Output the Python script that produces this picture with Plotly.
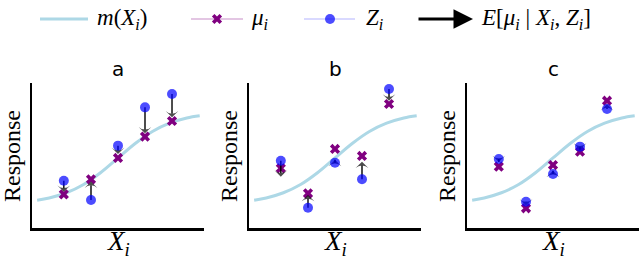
import plotly.graph_objects as go

# ---------------- data ----------------
panel_labels = ["a", "b", "c"]
X = [1.85, 3.43, 5.0, 6.57, 8.14]

curve_x = [0.3, 1.0, 2.0, 3.0, 4.0, 5.0, 6.0, 7.0, 8.0, 9.0, 9.75]
curve_y = [1.92, 2.07, 2.43, 3.00, 3.83, 4.83, 5.83, 6.66, 7.23, 7.59, 7.74]

mu_a = [2.32, 3.36, 4.83, 6.30, 7.38]
Z_a = [3.26, 1.93, 5.68, 8.32, 9.24]
E_a = [2.50, 3.20, 5.10, 6.53, 7.63]

mu_b = [4.12, 2.39, 5.45, 4.97, 8.55]
Z_b = [4.64, 1.40, 4.50, 3.36, 9.59]
E_b = [3.54, 2.28, 4.70, 4.57, 8.78]

mu_c = [4.23, 1.36, 4.34, 5.26, 8.78]
Z_c = [4.76, 1.81, 3.72, 5.61, 8.21]
E_c = [4.55, 1.55, 3.95, 5.40, 8.55]

mu_all = [mu_a, mu_b, mu_c]
Z_all = [Z_a, Z_b, Z_c]
E_all = [E_a, E_b, E_c]

legend_labels = [
    "<i>m</i>(<i>X<sub>i</sub></i>)",
    "<i>μ<sub>i</sub></i>",
    "<i>Z<sub>i</sub></i>",
    "<i>E</i>[<i>μ<sub>i</sub></i> | <i>X<sub>i</sub></i>, <i>Z<sub>i</sub></i>]",
]

# ---------------- styles / geometry ----------------
W, H = 640, 260
CURVE_COL = "rgb(173,216,230)"
MU_COL = "rgb(128,0,128)"
Z_COL = "rgba(0,0,255,0.7)"
SERIF = "Liberation Serif"
SANS = "DejaVu Sans"


def fx(px):
    return px / W


def fy(py):
    return 1 - py / H


panel_px = [(32, 204), (249, 421), (467, 639)]
y_top_px, y_bot_px = 83, 228
ydom = [fy(y_bot_px), fy(y_top_px)]

fig = go.Figure()
layout = dict(
    width=W, height=H, margin=dict(l=0, r=0, t=0, b=0),
    paper_bgcolor="white", plot_bgcolor="rgba(0,0,0,0)", showlegend=False,
)

annotations = []
for i in range(3):
    xa = "x" if i == 0 else f"x{i+1}"
    ya = "y" if i == 0 else f"y{i+1}"
    xkey = "xaxis" if i == 0 else f"xaxis{i+1}"
    ykey = "yaxis" if i == 0 else f"yaxis{i+1}"
    x0, x1 = panel_px[i]
    common = dict(showticklabels=False, ticks="", showgrid=False, zeroline=False,
                  showline=True, linecolor="black", linewidth=2.5, range=[0, 10],
                  fixedrange=True)
    layout[xkey] = dict(domain=[fx(x0), min(fx(x1), 1)], anchor=ya, **common)
    layout[ykey] = dict(domain=ydom, anchor=xa, **common)

    # curve
    fig.add_trace(go.Scatter(x=curve_x, y=curve_y, mode="lines", line_shape="spline",
                             line=dict(color=CURVE_COL, width=3),
                             xaxis=xa, yaxis=ya, hoverinfo="skip"))
    # mu markers
    fig.add_trace(go.Scatter(x=X, y=mu_all[i], mode="markers",
                             marker=dict(symbol="x", size=9, color=MU_COL,
                                         line=dict(width=0)),
                             xaxis=xa, yaxis=ya))
    # arrows Z -> E
    for xv, zv, ev in zip(X, Z_all[i], E_all[i]):
        fig.add_trace(go.Scatter(x=[xv, xv], y=[zv, ev], mode="lines+markers",
                                 line=dict(color="black", width=1.4),
                                 marker=dict(symbol=["circle", "arrow-wide"], size=[0, 9],
                                             angleref="previous", color="black",
                                             line=dict(width=0)),
                                 xaxis=xa, yaxis=ya, hoverinfo="skip"))
    # Z dots
    fig.add_trace(go.Scatter(x=X, y=Z_all[i], mode="markers",
                             marker=dict(symbol="circle", size=10, color=Z_COL,
                                         line=dict(width=0)),
                             xaxis=xa, yaxis=ya))

    cx = fx((x0 + x1) / 2)
    annotations.append(dict(text=panel_labels[i], x=cx, y=fy(69), xref="paper", yref="paper",
                            showarrow=False, xanchor="center", yanchor="middle",
                            font=dict(family=SANS, size=20, color="black")))
    annotations.append(dict(text="<i>X<sub>i</sub></i>", x=cx, y=fy(243), xref="paper", yref="paper",
                            showarrow=False, xanchor="center", yanchor="middle",
                            font=dict(family=SERIF, size=27, color="black")))
    annotations.append(dict(text="Response", x=fx(x0 - 20), y=fy(156), xref="paper", yref="paper",
                            showarrow=False, xanchor="center", yanchor="middle", textangle=-90,
                            font=dict(family=SERIF, size=24, color="black")))

# ---------------- legend (overlay axis in pixel units) ----------------
layout["xaxis4"] = dict(domain=[0, 1], range=[0, W], visible=False, fixedrange=True, anchor="y4")
layout["yaxis4"] = dict(domain=[0, 1], range=[H, 0], visible=False, fixedrange=True, anchor="x4")
LY = 19
fig.add_trace(go.Scatter(x=[40, 88], y=[LY, LY], mode="lines",
                         line=dict(color=CURVE_COL, width=3), xaxis="x4", yaxis="y4"))
fig.add_trace(go.Scatter(x=[191, 243], y=[LY, LY], mode="lines",
                         line=dict(color="rgba(128,0,128,0.3)", width=1.5), xaxis="x4", yaxis="y4"))
fig.add_trace(go.Scatter(x=[217], y=[LY], mode="markers",
                         marker=dict(symbol="x", size=9, color=MU_COL, line=dict(width=0)),
                         xaxis="x4", yaxis="y4"))
fig.add_trace(go.Scatter(x=[304, 355], y=[LY, LY], mode="lines",
                         line=dict(color="rgba(0,0,255,0.2)", width=1.5), xaxis="x4", yaxis="y4"))
fig.add_trace(go.Scatter(x=[330], y=[LY], mode="markers",
                         marker=dict(symbol="circle", size=10, color=Z_COL, line=dict(width=0)),
                         xaxis="x4", yaxis="y4"))
annotations.append(dict(x=473, y=LY, ax=417, ay=LY, xref="x4", yref="y4", axref="x4", ayref="y4",
                        text="", showarrow=True, arrowhead=2, arrowsize=1.3, arrowwidth=3,
                        arrowcolor="black"))
for lx, txt in zip([95, 249, 364, 479], legend_labels):
    annotations.append(dict(text=txt, x=lx, y=LY, xref="x4", yref="y4", showarrow=False,
                            xanchor="left", yanchor="middle",
                            font=dict(family=SERIF, size=23, color="black")))

layout["annotations"] = annotations
fig.update_layout(**layout)
fig.write_html("out.html",
               config={"displayModeBar": False, "staticPlot": True},
               post_script="document.body.style.margin='0';document.body.style.overflow='hidden';")
